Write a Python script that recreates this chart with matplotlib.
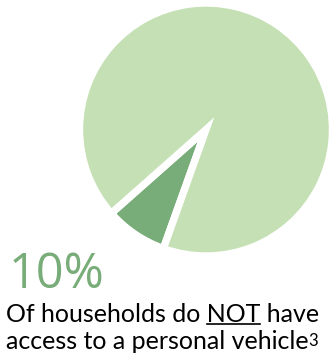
import matplotlib
matplotlib.use("Agg")
import matplotlib.pyplot as plt
from matplotlib.lines import Line2D

# data
labels = ["No vehicle", "Has vehicle"]
shares = [8, 92]
slice_colors = ["#78ac78", "#c5e0b4"]

big_label = "10%"
line1_pre = "Of households do "
line1_key = "NOT"
line1_post = " have"
line2 = "access to a personal vehicle"
footnote = "3"

W, H = 333, 357
fig = plt.figure(figsize=(W / 100, H / 100), dpi=100)

# pie axes: centre ~ (206, 129.5) px, radius ~126.5 px
ax = fig.add_axes([79.5 / W, (H - 256) / H, 253 / W, 253 / H])
ax.pie(shares, colors=slice_colors, startangle=221.5, counterclock=True,
       wedgeprops=dict(edgecolor="white", linewidth=5.3))
ax.set_xlim(-1, 1)
ax.set_ylim(-1, 1)
ax.set_aspect("equal")
ax.axis("off")

body_font = "Lato"
body_size = 18


def fy(py):
    return (H - py) / H


fig.text(9 / W, fy(288), big_label, color="#78ac78", fontsize=35,
         family="Open Sans", va="baseline", ha="left")

t1 = fig.text(6 / W, fy(322), line1_pre + line1_key + line1_post,
              fontsize=body_size, family=body_font, va="baseline", ha="left")
t2 = fig.text(6 / W, fy(349), line2,
              fontsize=body_size, family=body_font, va="baseline", ha="left")

renderer = fig.canvas.get_renderer()

# underline under NOT
probe = fig.text(6 / W, fy(322), line1_pre + line1_key, fontsize=body_size,
                 family=body_font, va="baseline", ha="left")
probe_key = fig.text(0, 0, line1_key, fontsize=body_size, family=body_font)
bb = probe.get_window_extent(renderer)
bk = probe_key.get_window_extent(renderer)
probe.remove()
probe_key.remove()
x_end = bb.x1 / W
x_start = (bb.x1 - bk.width) / W
fig.add_artist(Line2D([x_start, x_end], [fy(324), fy(324)], color="black",
                      linewidth=1.2, transform=fig.transFigure))

# superscript footnote
b2 = t2.get_window_extent(renderer)
fig.text(b2.x1 / W, fy(346), footnote, fontsize=12,
         family=body_font, va="baseline", ha="left")

fig.savefig("out.png", dpi=100)
